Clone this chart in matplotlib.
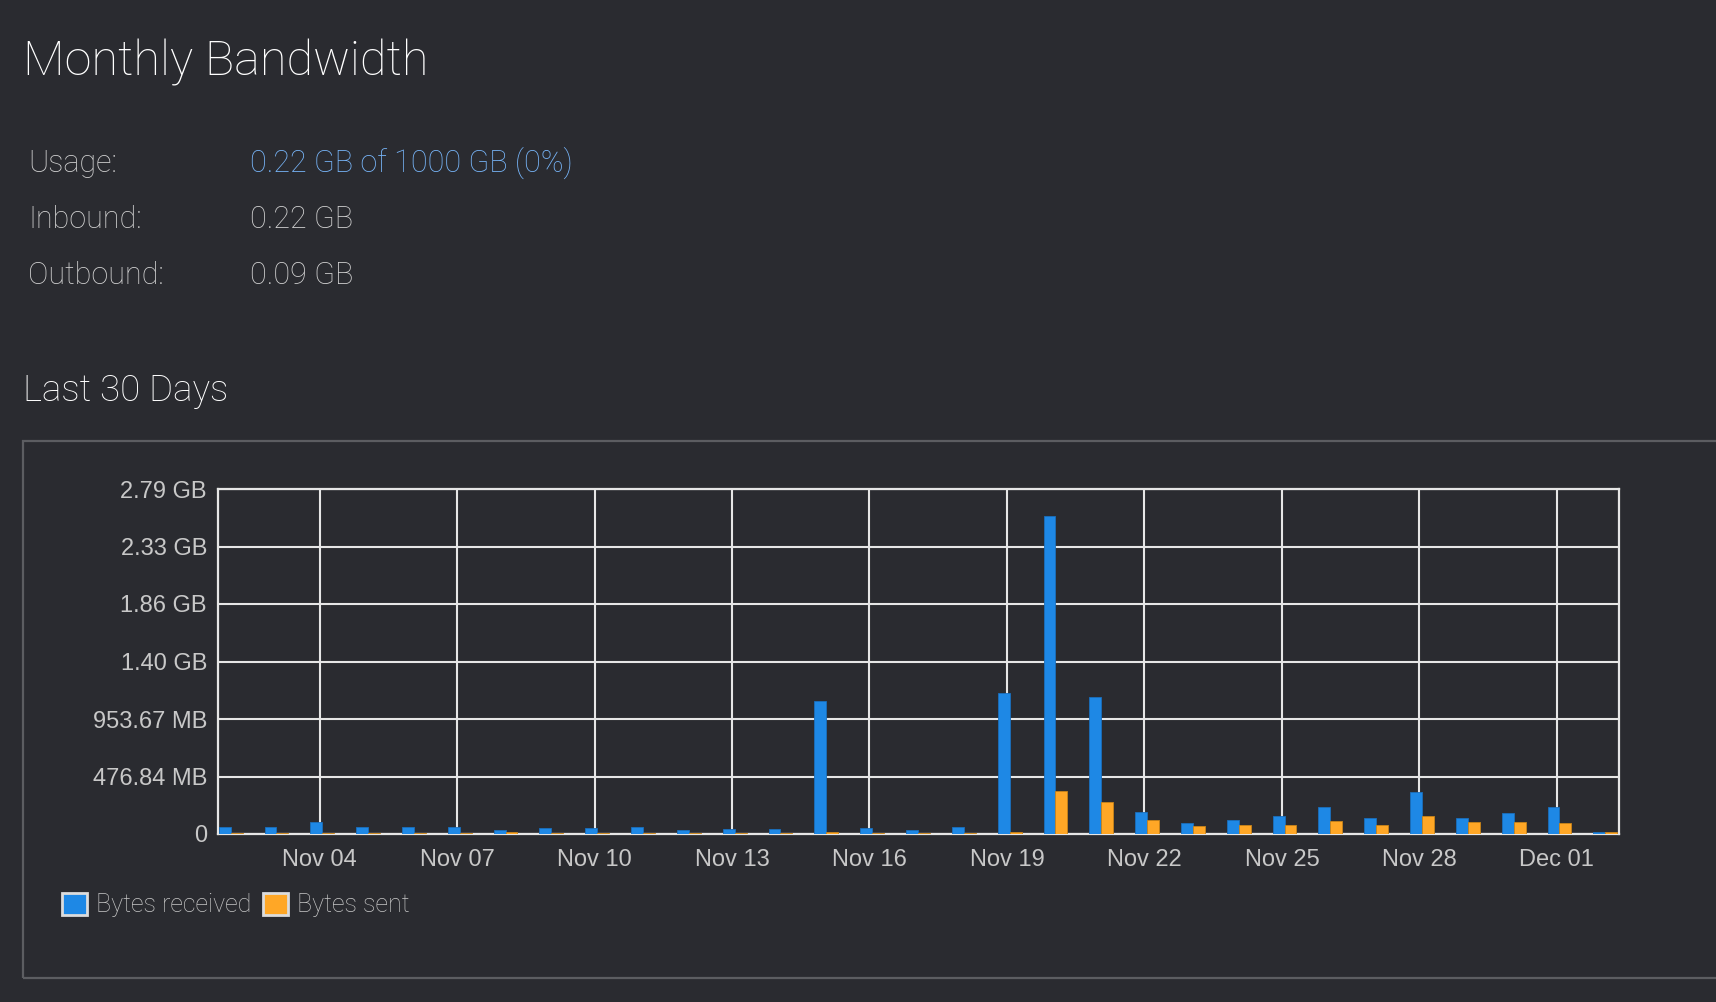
import numpy as np
import pandas as pd
import matplotlib
matplotlib.use('Agg')
import matplotlib.pyplot as plt
import matplotlib.dates as mdates
from matplotlib.patches import Rectangle, Patch

# daily traffic, MB (1 MB = 1e6 bytes)
dates = pd.date_range('2023-11-02', '2023-12-02', freq='D')
received = [58, 64, 107, 64, 58, 64, 38, 49, 49, 64,
            32, 46, 46, 1153, 52, 38, 64, 1225, 2766, 1193,
            194, 96, 119, 156, 235, 142, 368, 139, 182, 232, 20]
sent = [8, 8, 8, 8, 8, 8, 14, 8, 8, 8,
        8, 8, 8, 20, 8, 8, 8, 20, 371, 278,
        125, 72, 78, 78, 116, 75, 156, 107, 107, 98, 20]

ytick_vals = [0, 500, 1000, 1500, 2000, 2500, 3000]
ytick_labels = ['0', '476.84 MB', '953.67 MB', '1.40 GB', '1.86 GB', '2.33 GB', '2.79 GB']

summary_labels = ['Usage:', 'Inbound:', 'Outbound:']
summary_values = ['0.22 GB of 1000 GB (0%)', '0.22 GB', '0.09 GB']

bg = '#2a2b30'
blue = '#1e88e5'
orange = '#ffa726'
grid_col = '#e6e6e6'
txt_gray = '#d2d2d2'

W, H = 1716, 1002
fig = plt.figure(figsize=(W / 100, H / 100), dpi=100, facecolor=bg)

def fx(px):
    return px / W

def fy(py):
    return 1 - py / H

# header texts
fig.text(fx(23), fy(76), 'Monthly Bandwidth', color='white', fontsize=35,
         family='Roboto', fontweight='light', va='baseline')
rows_y = [172, 228, 284]
for lab, val, yy in zip(summary_labels, summary_values, rows_y):
    fig.text(fx(28), fy(yy), lab, color=txt_gray, fontsize=22,
             family='Roboto', fontweight='light', va='baseline')
    c = '#78b6fa' if lab == 'Usage:' else txt_gray
    fig.text(fx(250), fy(yy), val, color=c, fontsize=22,
             family='Roboto', fontweight='light', va='baseline')
fig.text(fx(23), fy(401), 'Last 30 Days', color='white', fontsize=26.5,
         family='Roboto', fontweight='light', va='baseline')

# outer chart box
fig.add_artist(Rectangle((fx(23), fy(978)), 1.2, (978 - 441) / H,
                         transform=fig.transFigure, facecolor='none',
                         edgecolor='#5c5d61', linewidth=1.6))

ax = fig.add_axes([fx(218), fy(834), (1618.6 - 218) / W, (834 - 489) / H])
ax.set_facecolor(bg)

x = mdates.date2num(dates) + 0.058
w = 0.26
ax.bar(x - w / 2, received, width=w, color=blue, edgecolor='#1a6fbd', linewidth=0.6, zorder=3)
ax.bar(x + w / 2, sent, width=w, color=orange, edgecolor='#c98419', linewidth=0.6, zorder=3)

ax.set_xlim(x[0] - 0.275, x[-1] + 0.29)
ax.set_ylim(0, 3000)
ax.set_yticks(ytick_vals)
ax.set_yticklabels(ytick_labels)
ax.set_xticks(mdates.date2num(dates[2::3]))
ax.xaxis.set_major_formatter(mdates.DateFormatter('%b %d'))

ax.grid(True, color=grid_col, linewidth=1.5, zorder=1)
ax.set_axisbelow(True)
for s in ax.spines.values():
    s.set_color(grid_col)
    s.set_linewidth(1.6)
ax.tick_params(length=0, colors='#c8c8c8', labelsize=17)
ax.tick_params(axis='x', pad=11)
ax.tick_params(axis='y', pad=8)
for t in ax.get_xticklabels() + ax.get_yticklabels():
    t.set_family('Liberation Sans')

handles = [Patch(facecolor=blue, edgecolor='#dcdcdc', linewidth=2, label='Bytes received'),
           Patch(facecolor=orange, edgecolor='#dcdcdc', linewidth=2, label='Bytes sent')]
leg = fig.legend(handles=handles, loc='center left', bbox_to_anchor=(fx(49), fy(905)),
                 ncol=2, frameon=False, handlelength=1.03, handleheight=1.03,
                 handletextpad=0.35, columnspacing=0.45, borderpad=0,
                 prop={'family': 'Roboto', 'weight': 'light', 'size': 18})
for t in leg.get_texts():
    t.set_color('#c8c8c8')

fig.savefig('out.png', dpi=100, facecolor=bg)
